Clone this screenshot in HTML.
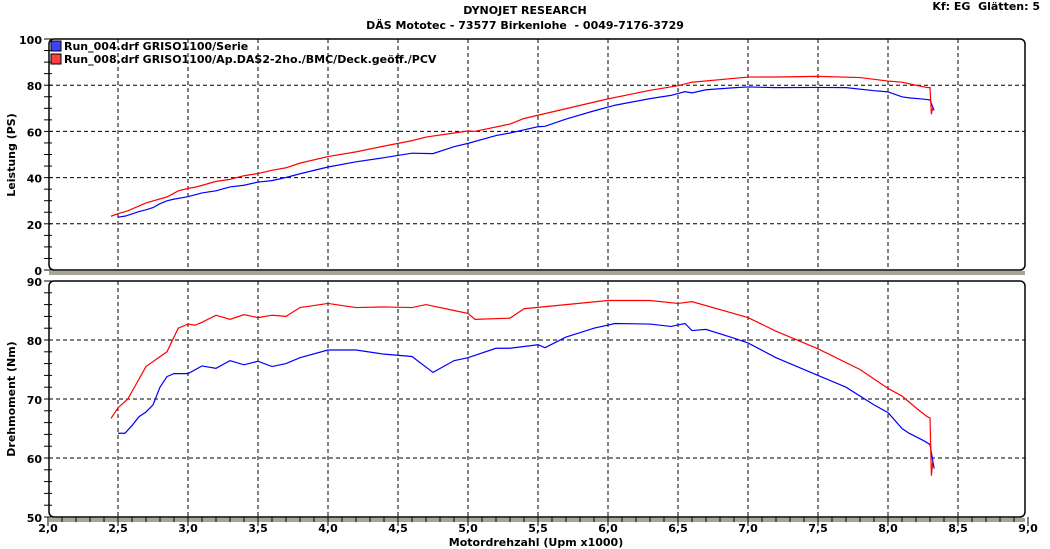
<!DOCTYPE html>
<html><head><meta charset="utf-8"><style>
body{margin:0;background:#fff;width:1050px;height:549px;overflow:hidden}
svg{display:block}
text{font-family:"DejaVu Sans","Liberation Sans",sans-serif;font-weight:bold;font-size:11px;fill:#000}
</style></head><body>
<svg id="s" width="1050" height="549" xmlns="http://www.w3.org/2000/svg">
<text x="525" y="14" text-anchor="middle">DYNOJET RESEARCH</text>
<text x="525" y="29" text-anchor="middle" xml:space="preserve">DÄS Mototec - 73577 Birkenlohe  - 0049-7176-3729</text>
<text x="1040" y="10" text-anchor="end" xml:space="preserve">Kf: EG  Glätten: 5</text>
<g id="g"></g>
<text transform="translate(15,155) rotate(-90)" text-anchor="middle" font-size="12">Leistung (PS)</text>
<text transform="translate(15,399) rotate(-90)" text-anchor="middle" font-size="12">Drehmoment (Nm)</text>
<text x="536" y="546" text-anchor="middle" font-size="11">Motordrehzahl (Upm x1000)</text>
<rect x="51" y="41" width="10" height="10" fill="#4040ff" stroke="#000" stroke-width="1"/>
<rect x="51" y="54" width="10" height="10" fill="#ff4040" stroke="#000" stroke-width="1"/>
<text x="64" y="50" font-size="11">Run_004.drf GRISO1100/Serie</text>
<text x="64" y="63" font-size="11">Run_008.drf GRISO1100/Ap.DAS2-2ho./BMC/Deck.geöff./PCV</text>
</svg>
<script>
const g=document.getElementById('g');let h='';
const X=r=>48+(r-2)*140;
const YT=v=>270-v*2.31, YB=v=>517-(v-50)*5.9;
function panel(t,b){
 h+=`<rect x="49" y="${b+1}" width="976" height="4" fill="#a8a498"/>`;
 h+=`<rect x="49" y="${t}" width="976" height="${b-t}" rx="5" fill="none" stroke="#000" stroke-width="1.5"/>`;
 for(let r=2.5;r<9;r+=0.5)h+=`<line x1="${X(r)}" y1="${t}" x2="${X(r)}" y2="${b}" stroke="#000" stroke-dasharray="4,3"/>`;
}
panel(39,270);panel(281,517);
for(let v=20;v<100;v+=20)h+=`<line x1="49" x2="1025" y1="${YT(v)}" y2="${YT(v)}" stroke="#000" stroke-dasharray="4,3"/>`;
for(let v=60;v<90;v+=10)h+=`<line x1="49" x2="1025" y1="${YB(v)}" y2="${YB(v)}" stroke="#000" stroke-dasharray="4,3"/>`;
for(let v=0;v<=100;v+=5)h+=`<line x1="44" x2="52" y1="${YT(v)}" y2="${YT(v)}" stroke="#000"/>`;
for(let v=50;v<=90;v+=2)h+=`<line x1="44" x2="52" y1="${YB(v)}" y2="${YB(v)}" stroke="#000"/>`;
for(let v=0;v<=100;v+=20)h+=`<text x="42" y="${YT(v)+5}" text-anchor="end">${v}</text>`;
for(let v=50;v<=90;v+=10)h+=`<text x="42" y="${YB(v)+5}" text-anchor="end">${v}</text>`;
for(let r=2;r<=9.001;r+=0.1){h+=`<line x1="${X(r)}" x2="${X(r)}" y1="517" y2="${Math.abs(r*2-Math.round(r*2))<.01?526:522}" stroke="#000"/>`;}
for(let r=2;r<=9;r+=0.5)h+=`<text x="${X(r)}" y="532" text-anchor="middle">${r.toFixed(1).replace('.',',')}</text>`;
const red=[[2.45,66.7],[2.5,68.5],[2.57,70],[2.7,75.5],[2.85,78],[2.93,82],[3.0,82.7],[3.05,82.5],[3.1,83],[3.2,84.2],[3.3,83.5],[3.4,84.3],[3.5,83.8],[3.6,84.2],[3.7,84],[3.8,85.5],[4.0,86.2],[4.2,85.5],[4.4,85.6],[4.6,85.5],[4.7,86],[4.9,85],[5.0,84.5],[5.05,83.5],[5.3,83.7],[5.4,85.3],[6.0,86.7],[6.3,86.7],[6.5,86.2],[6.6,86.5],[7.0,83.8],[7.2,81.5],[7.5,78.5],[7.8,75],[8.0,71.8],[8.1,70.5],[8.2,68.5],[8.28,67],[8.3,66.8],[8.31,57],[8.32,59.5]];
const blue=[[2.5,64.2],[2.55,64.2],[2.6,65.5],[2.65,67],[2.7,67.8],[2.75,69],[2.8,72],[2.85,73.8],[2.9,74.3],[3.0,74.3],[3.1,75.6],[3.2,75.2],[3.3,76.5],[3.4,75.8],[3.5,76.4],[3.6,75.5],[3.7,76],[3.8,77],[4.0,78.3],[4.2,78.3],[4.4,77.6],[4.6,77.2],[4.75,74.5],[4.9,76.5],[5.0,77],[5.2,78.6],[5.3,78.6],[5.5,79.2],[5.55,78.7],[5.7,80.5],[5.9,82],[6.05,82.8],[6.3,82.7],[6.45,82.3],[6.55,82.8],[6.6,81.6],[6.7,81.8],[6.9,80.3],[7.0,79.5],[7.2,77],[7.5,74],[7.7,72],[7.9,69],[8.0,67.7],[8.1,65],[8.15,64.2],[8.25,63],[8.3,62.3],[8.32,59.5],[8.33,58.2]];
function pl(d,c){
 h+=`<polyline fill="none" stroke="${c}" stroke-width="1.2" points="${d.map(p=>X(p[0])+','+YB(p[1])).join(' ')}"/>`;
 h+=`<polyline fill="none" stroke="${c}" stroke-width="1.2" points="${d.map(p=>X(p[0])+','+YT(p[1]*p[0]*1000/7023)).join(' ')}"/>`;
}
pl(blue,'#0000ff');pl(red,'#ff0000');
g.innerHTML=h;
</script>
</body></html>
